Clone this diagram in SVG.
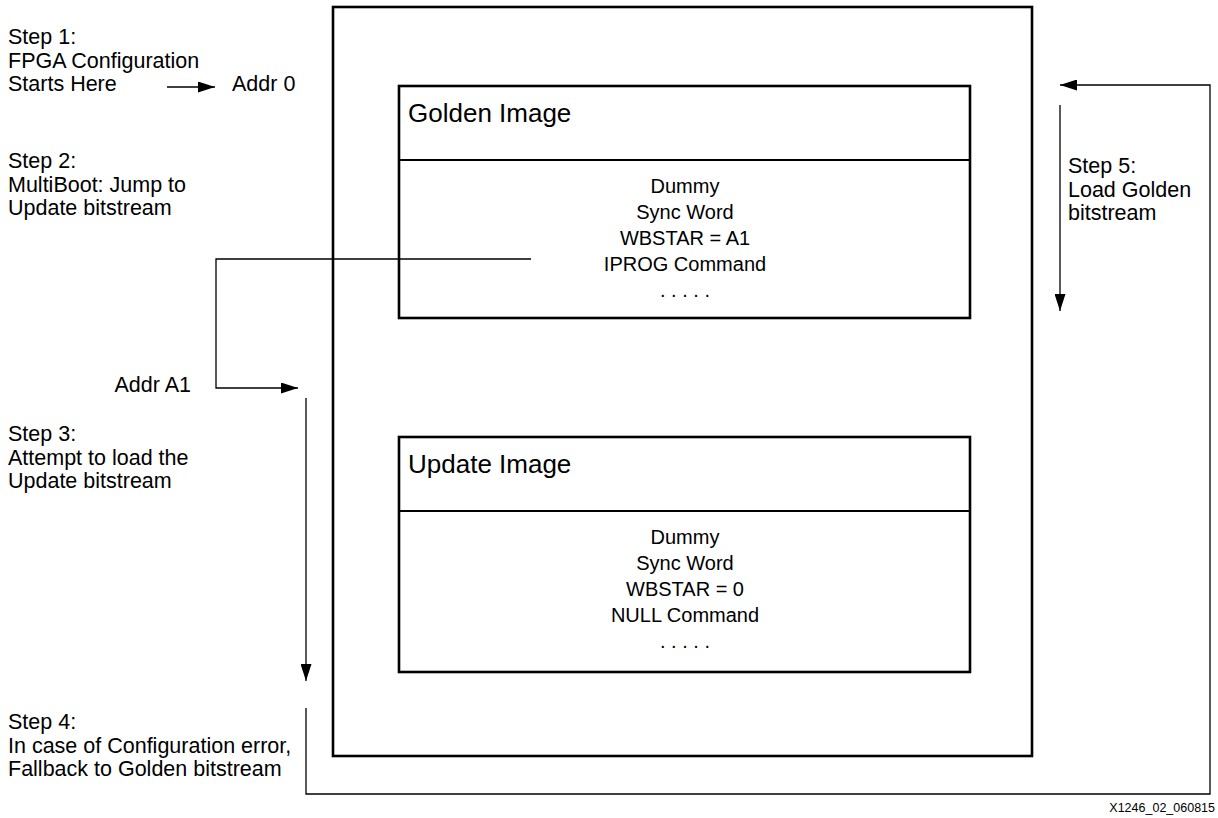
<svg xmlns="http://www.w3.org/2000/svg" width="1218" height="818" viewBox="0 0 1218 818">
<style>
text{font-family:"Liberation Sans",Arial,sans-serif;fill:#000}
.lbl{font-size:21.5px}
.hdr{font-size:26px}
.body{font-size:20px;text-anchor:middle}
.box{fill:#fff;stroke:#000;stroke-width:2.6}
.con{fill:none;stroke:#000;stroke-width:1.3}
.foot{font-size:12.5px;text-anchor:end}
</style>
<defs>
<marker id="ah" markerWidth="17" markerHeight="11" refX="17" refY="5.5" orient="auto" markerUnits="userSpaceOnUse">
<path d="M0,0 L17,5.5 L0,11 Z" fill="#000"/>
</marker>
</defs>
<rect width="1218" height="818" fill="#fff"/>
<g id="flash">
<rect class="box" x="333" y="7" width="699" height="749"/>
</g>
<g id="golden">
<rect class="box" x="399" y="86" width="571" height="232"/>
<line x1="399" y1="160" x2="970" y2="160" stroke="#000" stroke-width="2"/>
<text class="hdr" x="408" y="122">Golden Image</text>
<text class="body" x="685" y="193">Dummy</text>
<text class="body" x="685" y="219">Sync Word</text>
<text class="body" x="685" y="245">WBSTAR = A1</text>
<text class="body" x="685" y="271">IPROG Command</text>
<text class="body" x="685" y="297">. . . . .</text>
</g>
<g id="update">
<rect class="box" x="399" y="437" width="571" height="235"/>
<line x1="399" y1="511" x2="970" y2="511" stroke="#000" stroke-width="2"/>
<text class="hdr" x="408" y="473">Update Image</text>
<text class="body" x="685" y="544">Dummy</text>
<text class="body" x="685" y="570">Sync Word</text>
<text class="body" x="685" y="596">WBSTAR = 0</text>
<text class="body" x="685" y="622">NULL Command</text>
<text class="body" x="685" y="648">. . . . .</text>
</g>
<g id="step1">
<text class="lbl" x="8" y="44">Step 1:</text>
<text class="lbl" x="8" y="67.5">FPGA Configuration</text>
<text class="lbl" x="8" y="91">Starts Here</text>
<text class="lbl" x="232" y="91">Addr 0</text>
</g>
<g id="step2">
<text class="lbl" x="8" y="168">Step 2:</text>
<text class="lbl" x="8" y="191.5">MultiBoot: Jump to</text>
<text class="lbl" x="8" y="215">Update bitstream</text>
<text class="lbl" x="191" y="392" text-anchor="end">Addr A1</text>
</g>
<g id="step3">
<text class="lbl" x="8" y="441">Step 3:</text>
<text class="lbl" x="8" y="464.5">Attempt to load the</text>
<text class="lbl" x="8" y="488">Update bitstream</text>
</g>
<g id="step4">
<text class="lbl" x="8" y="729">Step 4:</text>
<text class="lbl" x="8" y="752.5">In case of Configuration error,</text>
<text class="lbl" x="8" y="776">Fallback to Golden bitstream</text>
</g>
<g id="step5">
<text class="lbl" x="1068" y="173">Step 5:</text>
<text class="lbl" x="1068" y="196.5">Load Golden</text>
<text class="lbl" x="1068" y="220">bitstream</text>
</g>
<g id="connectors">
<line class="con" x1="167" y1="87" x2="215" y2="87" marker-end="url(#ah)"/>
<polyline class="con" points="531,259 216,259 216,388 298,388" marker-end="url(#ah)"/>
<line class="con" x1="306" y1="398" x2="306" y2="681" marker-end="url(#ah)"/>
<polyline class="con" points="306,708 306,794 1210,794 1210,85 1060,85" marker-end="url(#ah)"/>
<line class="con" x1="1060" y1="105" x2="1060" y2="311" marker-end="url(#ah)"/>
</g>
<text class="foot" x="1215" y="812">X1246_02_060815</text>
</svg>
